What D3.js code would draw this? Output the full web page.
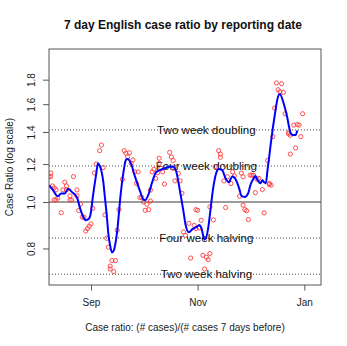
<!DOCTYPE html>
<html>
<head>
<meta charset="utf-8">
<script src="https://cdn.jsdelivr.net/npm/d3@7"></script>
<style>
  html, body { margin: 0; padding: 0; background: #fff; }
  svg { display: block; font-family: "Liberation Sans", Arial, sans-serif; }
</style>
</head>
<body>
<svg id="chart" width="347" height="346"></svg>
<script>
// ---- data ----
const pointDates = [
  "2020-08-08","2020-08-09","2020-08-09","2020-08-10","2020-08-11","2020-08-11","2020-08-12","2020-08-12","2020-08-13","2020-08-15",
  "2020-08-16","2020-08-17","2020-08-18","2020-08-18","2020-08-20","2020-08-20","2020-08-21","2020-08-22","2020-08-24","2020-08-24",
  "2020-08-25","2020-08-26","2020-08-27","2020-08-28","2020-08-29","2020-08-30","2020-08-31","2020-09-01","2020-09-02","2020-09-03",
  "2020-09-04","2020-09-06","2020-09-07","2020-09-08","2020-09-09","2020-09-10","2020-09-11","2020-09-12","2020-09-12","2020-09-13",
  "2020-09-14","2020-09-15","2020-09-16","2020-09-17","2020-09-19","2020-09-20","2020-09-21","2020-09-22","2020-09-23","2020-09-24",
  "2020-09-25","2020-09-26","2020-09-27","2020-09-28","2020-09-29","2020-09-30","2020-10-01","2020-10-02","2020-10-03","2020-10-04",
  "2020-10-05","2020-10-05","2020-10-06","2020-10-07","2020-10-08","2020-10-09","2020-10-10","2020-10-10","2020-10-11","2020-10-12",
  "2020-10-13","2020-10-16","2020-10-17","2020-10-18","2020-10-18","2020-10-19","2020-10-21","2020-10-22","2020-10-23","2020-10-24",
  "2020-10-25","2020-10-27","2020-10-28","2020-10-30","2020-10-31","2020-11-01","2020-10-31","2020-11-02","2020-11-03","2020-11-04",
  "2020-11-06","2020-11-05","2020-11-07","2020-11-08","2020-11-08","2020-11-10","2020-11-11","2020-11-13","2020-11-14","2020-11-14",
  "2020-11-16","2020-11-17","2020-11-18","2020-11-20","2020-11-21","2020-11-22","2020-11-25","2020-11-26","2020-11-27","2020-11-27",
  "2020-11-28","2020-11-29","2020-11-30","2020-12-01","2020-12-02","2020-12-03","2020-12-04","2020-12-05","2020-12-06","2020-12-08",
  "2020-12-09","2020-12-11","2020-12-12","2020-12-12","2020-12-13","2020-12-14","2020-12-15","2020-12-16","2020-12-17","2020-12-18",
  "2020-12-19","2020-12-20","2020-12-21","2020-12-23","2020-12-23","2020-12-24","2020-12-24","2020-12-26","2020-12-27","2020-12-28",
  "2020-12-29","2020-12-30","2020-12-31"
];
const pointRatios = [
  1.13,1.15,1.13,1.08,1.07,1.01,1.01,1.06,1.02,0.95,
  1.06,1.10,1.08,1.06,1.03,1.01,1.01,1.13,1.06,1.03,
  0.96,0.99,0.93,0.93,0.87,0.88,0.89,0.90,0.97,1.15,
  1.20,1.28,1.315,1.18,0.94,0.84,0.805,0.735,0.725,0.755,
  0.716,0.755,0.873,0.964,1.115,1.28,1.264,1.243,1.267,1.204,
  1.224,1.156,1.093,1.156,1.022,1.022,1.000,0.961,0.989,0.964,
  1.005,1.059,1.156,1.170,1.120,1.151,1.234,1.204,1.175,1.156,
  1.090,1.269,1.241,1.221,1.175,1.107,1.147,1.107,1.043,0.866,
  0.852,0.903,0.764,0.894,0.964,0.961,0.880,0.883,0.916,0.774,
  0.767,0.725,0.758,0.781,0.977,0.918,1.185,1.280,1.259,1.240,
  1.107,0.974,1.129,1.093,1.156,1.133,1.028,1.149,0.985,1.129,
  0.964,0.959,0.919,1.138,1.137,1.137,1.046,1.116,1.120,1.062,
  0.949,1.221,1.093,1.088,1.084,1.369,1.570,1.772,1.715,1.699,
  1.766,1.693,1.528,1.398,1.387,1.378,1.259,1.447,1.297,1.451,
  1.447,1.369,1.528
];
const smoothDates = [
  "2020-08-08","2020-08-10","2020-08-13","2020-08-15","2020-08-17","2020-08-19","2020-08-21","2020-08-24","2020-08-26","2020-08-28",
  "2020-08-29","2020-08-31","2020-09-01","2020-09-02","2020-09-04","2020-09-05","2020-09-06","2020-09-07","2020-09-08","2020-09-09",
  "2020-09-10","2020-09-11","2020-09-12","2020-09-13","2020-09-14","2020-09-15","2020-09-16","2020-09-18","2020-09-20","2020-09-21",
  "2020-09-22","2020-09-24","2020-09-26","2020-09-29","2020-10-01","2020-10-02","2020-10-04","2020-10-06","2020-10-08","2020-10-11",
  "2020-10-13","2020-10-16","2020-10-18","2020-10-20","2020-10-21","2020-10-22","2020-10-24","2020-10-25","2020-10-27","2020-10-29",
  "2020-10-31","2020-11-02","2020-11-03","2020-11-05","2020-11-07","2020-11-08","2020-11-10","2020-11-12","2020-11-13","2020-11-15",
  "2020-11-17","2020-11-19","2020-11-20","2020-11-21","2020-11-23","2020-11-25","2020-11-26","2020-11-28","2020-11-30","2020-12-01",
  "2020-12-03","2020-12-04","2020-12-05","2020-12-07","2020-12-08","2020-12-09","2020-12-10","2020-12-11","2020-12-12","2020-12-13",
  "2020-12-15","2020-12-17","2020-12-18","2020-12-20","2020-12-22","2020-12-24","2020-12-25","2020-12-27","2020-12-28"
];
const smoothRatios = [
  1.084,1.062,1.028,1.042,1.042,1.066,1.050,1.022,0.964,0.925,
  0.916,0.925,0.953,1.020,1.145,1.205,1.190,1.160,1.105,1.020,
  0.940,0.855,0.810,0.785,0.792,0.820,0.870,1.040,1.180,1.225,
  1.230,1.200,1.135,1.055,1.012,1.010,1.040,1.100,1.150,1.168,
  1.175,1.185,1.185,1.150,1.100,1.050,0.950,0.900,0.865,0.878,
  0.885,0.895,0.885,0.835,0.880,0.940,1.076,1.160,1.172,1.166,
  1.120,1.100,1.120,1.130,1.110,1.060,1.030,1.025,1.045,1.080,
  1.120,1.133,1.115,1.095,1.110,1.100,1.095,1.170,1.250,1.340,
  1.510,1.660,1.680,1.615,1.515,1.400,1.380,1.380,1.410
];
const refValues = [1.414, 1.189, 0.841, 0.707];
const refLabels = ["Two week doubling", "Four week doubling", "Four week halving", "Two week halving"];
const refLabelDate = "2020-11-06";
const yTicks = [0.8, 1.0, 1.2, 1.4, 1.6, 1.8];
const yTickLabels = ["0.8", "1.0", "1.2", "1.4", "1.6", "1.8"];
const xTickDates = ["2020-09-01", "2020-11-01", "2021-01-01"];
const xTickLabels = ["Sep", "Nov", "Jan"];
const yLimits = [0.7, 2.0];
const xLimits = ["2020-08-08T00:00", "2021-01-10T13:00"];
const titleText = "7 day English case ratio by reporting date";
const xTitle = "Case ratio: (# cases)/(# cases 7 days before)";
const yTitle = "Case Ratio (log scale)";

// ---- drawing ----
const svg = d3.select("#chart");
const M = { left: 49, right: 321, top: 49, bottom: 285 };
const parseDay = d3.utcParse("%Y-%m-%d");
const parseDT = d3.utcParse("%Y-%m-%dT%H:%M");

const x = d3.scaleUtc()
  .domain(xLimits.map(parseDT))
  .range([M.left, M.right]);

// R style 4% padding in log space
const ly0 = Math.log(yLimits[0]), ly1 = Math.log(yLimits[1]);
const pad = (ly1 - ly0) * 0.04;
const y = d3.scaleLog()
  .domain([Math.exp(ly0 - pad), Math.exp(ly1 + pad)])
  .range([M.bottom, M.top]);

svg.append("rect").attr("width", 347).attr("height", 346).attr("fill", "#fff");

svg.append("defs").append("clipPath").attr("id", "clip")
  .append("rect")
  .attr("x", M.left).attr("y", M.top)
  .attr("width", M.right - M.left).attr("height", M.bottom - M.top);

const plot = svg.append("g").attr("clip-path", "url(#clip)");

// reference lines
plot.selectAll("line.ref").data(refValues).join("line")
  .attr("class", "ref")
  .attr("x1", M.left).attr("x2", M.right)
  .attr("y1", d => y(d)).attr("y2", d => y(d))
  .attr("stroke", "#444").attr("stroke-width", 1)
  .attr("stroke-dasharray", "1,2");

// line at 1
plot.append("line")
  .attr("x1", M.left).attr("x2", M.right)
  .attr("y1", y(1)).attr("y2", y(1))
  .attr("stroke", "#7a7a7a").attr("stroke-width", 1.6);

// labels
plot.selectAll("text.ref").data(refValues).join("text")
  .attr("class", "ref")
  .attr("x", x(parseDay(refLabelDate)))
  .attr("y", d => y(d))
  .attr("dy", "0.35em")
  .attr("text-anchor", "middle")
  .attr("font-size", "11.6px")
  .attr("fill", "#111")
  .text((d, i) => refLabels[i]);

// points
const pts = pointDates.map((d, i) => ({ date: parseDay(d), v: pointRatios[i] }));
plot.selectAll("circle").data(pts).join("circle")
  .attr("cx", d => x(d.date))
  .attr("cy", d => y(d.v))
  .attr("r", 2.1)
  .attr("fill", "none")
  .attr("stroke", "#ff3b3b")
  .attr("stroke-width", 0.9);

// smooth line
const sm = smoothDates.map((d, i) => ({ date: parseDay(d), v: smoothRatios[i] }));
plot.append("path")
  .datum(sm)
  .attr("fill", "none")
  .attr("stroke", "#0000ff")
  .attr("stroke-width", 2)
  .attr("stroke-linejoin", "round")
  .attr("d", d3.line().x(d => x(d.date)).y(d => y(d.v)).curve(d3.curveMonotoneX));

// box
svg.append("rect")
  .attr("x", M.left).attr("y", M.top)
  .attr("width", M.right - M.left).attr("height", M.bottom - M.top)
  .attr("fill", "none").attr("stroke", "#555").attr("stroke-width", 1);

// x axis
const xAxis = d3.axisBottom(x)
  .tickValues(xTickDates.map(parseDay))
  .tickFormat((d, i) => xTickLabels[i])
  .tickSize(5.5).tickPadding(8);
const gx = svg.append("g").attr("transform", `translate(0,${M.bottom})`).call(xAxis);
gx.select(".domain").remove();
gx.selectAll(".tick line").attr("stroke", "#555");
gx.selectAll(".tick text").attr("font-size", "10px").attr("fill", "#222")
  .attr("font-family", "Liberation Sans, Arial, sans-serif");

// y axis
const yAxis = d3.axisLeft(y)
  .tickValues(yTicks)
  .tickFormat((d, i) => yTickLabels[i])
  .tickSize(6);
const gy = svg.append("g").attr("transform", `translate(${M.left},0)`).call(yAxis);
gy.select(".domain").remove();
gy.selectAll(".tick line").attr("stroke", "#555");
gy.selectAll(".tick text")
  .attr("font-size", "10px").attr("fill", "#222")
  .attr("font-family", "Liberation Sans, Arial, sans-serif")
  .attr("text-anchor", "middle")
  .attr("x", 0).attr("y", 0).attr("dy", "0.35em")
  .attr("transform", `translate(${31.7 - M.left},0) rotate(-90)`);

// titles
svg.append("text")
  .attr("x", (M.left + M.right) / 2 - 2).attr("y", 29)
  .attr("text-anchor", "middle")
  .attr("font-size", "12px").attr("font-weight", "bold").attr("fill", "#111")
  .text(titleText);

svg.append("text")
  .attr("x", (M.left + M.right) / 2).attr("y", 330.5)
  .attr("text-anchor", "middle")
  .attr("font-size", "10px").attr("fill", "#222")
  .text(xTitle);

svg.append("text")
  .attr("transform", `translate(9,${(M.top + M.bottom) / 2}) rotate(-90)`)
  .attr("dy", "0.35em")
  .attr("text-anchor", "middle")
  .attr("font-size", "10px").attr("fill", "#222")
  .text(yTitle);
</script>
</body>
</html>
